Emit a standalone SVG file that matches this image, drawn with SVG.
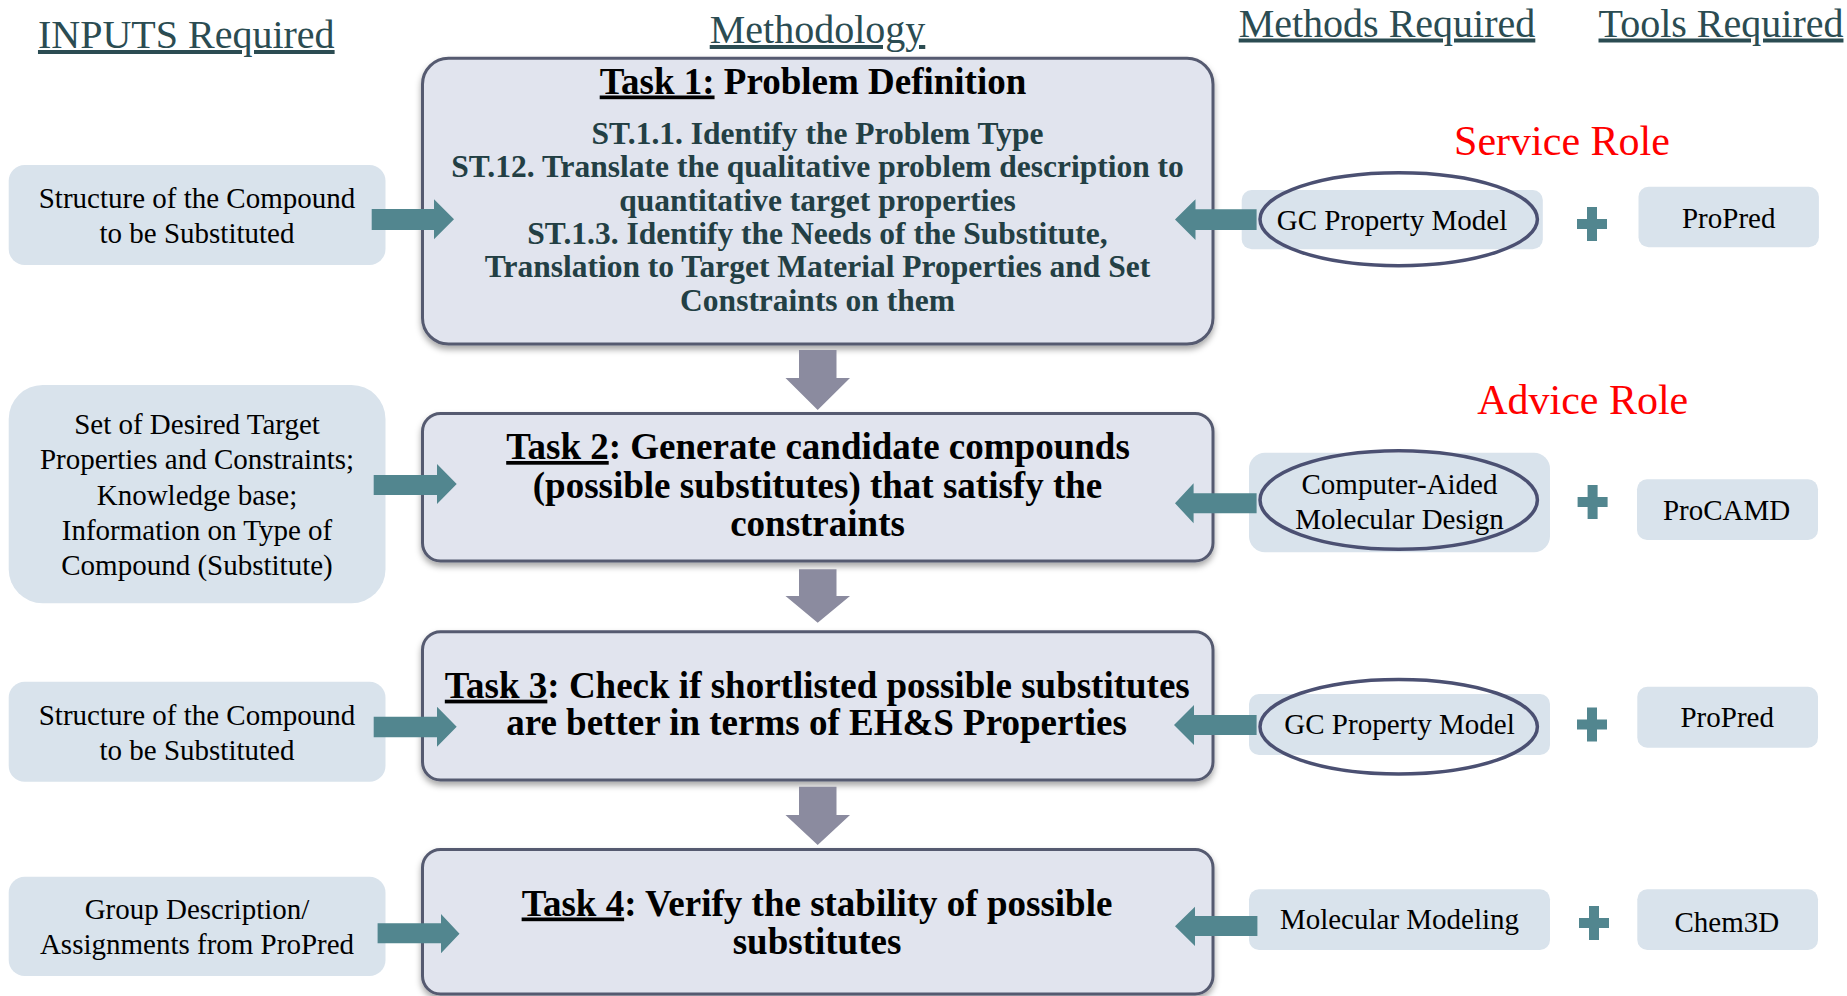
<svg xmlns="http://www.w3.org/2000/svg" xmlns:xlink="http://www.w3.org/1999/xlink" width="1847" height="996" viewBox="0 0 1847 996">
<defs>
<filter id="shadow" x="-5%" y="-10%" width="110%" height="125%">
<feDropShadow dx="0" dy="4" stdDeviation="3" flood-color="#000" flood-opacity="0.35"/>
</filter>
<path id="plus" d="M-15,-5 H-5 V-17 H5 V-5 H15 V5 H5 V17 H-5 V5 H-15 Z"/>
</defs>
<style>
.t{font-family:"Liberation Serif","Times New Roman",serif}
.head{font-size:40px;fill:#2b4c52;text-anchor:middle;text-decoration:underline}
.role{font-size:42px;fill:#ff0000;text-anchor:middle}
.inp{fill:#d9e3ec}
.in{font-size:29px;fill:#000;text-anchor:middle}
.task{fill:#e1e4ee;stroke:#555a70;stroke-width:3;filter:url(#shadow)}
.tt{font-size:37px;font-weight:bold;fill:#000;text-anchor:middle}
.st{font-size:31.5px;font-weight:bold;fill:#233f44;text-anchor:middle}
.ell{fill:none;stroke:#4b5072;stroke-width:3.5}
.tarrow{fill:#52868f}
.garrow{fill:#8b8b9f}
.u{text-decoration:underline}
</style>
<rect width="1847" height="996" fill="#ffffff"/>

<g id="headers" class="t">
<text class="head" x="186.3" y="48">INPUTS Required</text>
<text class="head" x="817.5" y="43">Methodology</text>
<text class="head" x="1387" y="36.5">Methods Required</text>
<text class="head" x="1721" y="36.5">Tools Required</text>
</g>

<g id="roles" class="t">
<text class="role" x="1562" y="155">Service Role</text>
<text class="role" x="1582.7" y="413.5">Advice Role</text>
</g>

<g id="input1" class="t">
<rect class="inp" x="8.7" y="165" width="376.8" height="100" rx="16"/>
<text class="in" x="197" y="208.3">Structure of the Compound</text>
<text class="in" x="197" y="242.7">to be Substituted</text>
</g>
<g id="input2" class="t">
<rect class="inp" x="8.7" y="385" width="376.8" height="218.3" rx="34"/>
<text class="in" x="197" y="433.5">Set of Desired Target</text>
<text class="in" x="197" y="469">Properties and Constraints;</text>
<text class="in" x="197" y="504.5">Knowledge base;</text>
<text class="in" x="197" y="540">Information on Type of</text>
<text class="in" x="197" y="575">Compound (Substitute)</text>
</g>
<g id="input3" class="t">
<rect class="inp" x="8.7" y="681.7" width="376.8" height="100" rx="16"/>
<text class="in" x="197" y="724.5">Structure of the Compound</text>
<text class="in" x="197" y="759.8">to be Substituted</text>
</g>
<g id="input4" class="t">
<rect class="inp" x="8.7" y="876.7" width="376.8" height="99.3" rx="16"/>
<text class="in" x="197" y="919">Group Description/</text>
<text class="in" x="197" y="954">Assignments from ProPred</text>
</g>

<g id="task1" class="t">
<rect class="task" x="422.5" y="58.3" width="790.5" height="285.7" rx="26"/>
<text class="tt" x="813" y="93.5"><tspan class="u">Task 1:</tspan> Problem Definition</text>
<text class="st" x="817.5" y="144">ST.1.1. Identify the Problem Type</text>
<text class="st" x="817.5" y="177.3">ST.12. Translate the qualitative problem description to</text>
<text class="st" x="817.5" y="210.6">quantitative target properties</text>
<text class="st" x="817.5" y="243.9">ST.1.3. Identify the Needs of the Substitute,</text>
<text class="st" x="817.5" y="277.2">Translation to Target Material Properties and Set</text>
<text class="st" x="817.5" y="310.5">Constraints on them</text>
</g>
<g id="task2" class="t">
<rect class="task" x="422.5" y="413.5" width="790.5" height="147.5" rx="18"/>
<text class="tt" x="818" y="459"><tspan class="u">Task 2</tspan>: Generate candidate compounds</text>
<text class="tt" x="817.5" y="497.5">(possible substitutes) that satisfy the</text>
<text class="tt" x="817.5" y="536">constraints</text>
</g>
<g id="task3" class="t">
<rect class="task" x="422.5" y="631.7" width="790.5" height="148.3" rx="18"/>
<text class="tt" x="817.3" y="697.7"><tspan class="u">Task 3</tspan>: Check if shortlisted possible substitutes</text>
<text class="tt" x="816.5" y="735.3">are better in terms of EH&amp;S Properties</text>
</g>
<g id="task4" class="t">
<rect class="task" x="422.5" y="849.5" width="790.5" height="144.5" rx="18"/>
<text class="tt" x="817" y="915.5"><tspan class="u">Task 4</tspan>: Verify the stability of possible</text>
<text class="tt" x="817" y="953.5">substitutes</text>
</g>

<g id="method1" class="t">
<rect class="inp" x="1241.7" y="190" width="301.1" height="59.3" rx="10"/>
<text class="in" x="1392" y="230">GC Property Model</text>
<ellipse class="ell" cx="1398.7" cy="219.2" rx="138.7" ry="46.5"/>
</g>
<g id="method2" class="t">
<rect class="inp" x="1249" y="452.7" width="301" height="99.6" rx="16"/>
<text class="in" x="1399.5" y="494.3">Computer-Aided</text>
<text class="in" x="1399.5" y="529.3">Molecular Design</text>
<ellipse class="ell" cx="1398.7" cy="500" rx="138.7" ry="49.3"/>
</g>
<g id="method3" class="t">
<rect class="inp" x="1249" y="694" width="301" height="61" rx="10"/>
<text class="in" x="1399.5" y="734.3">GC Property Model</text>
<ellipse class="ell" cx="1398.7" cy="726.7" rx="138.7" ry="47.3"/>
</g>
<g id="method4" class="t">
<rect class="inp" x="1249" y="889.3" width="301" height="60.7" rx="10"/>
<text class="in" x="1399.5" y="929.3">Molecular Modeling</text>
</g>

<g id="tool1" class="t">
<rect class="inp" x="1638.5" y="186.7" width="180.4" height="60.6" rx="10"/>
<text class="in" x="1728.7" y="227.7">ProPred</text>
</g>
<g id="tool2" class="t">
<rect class="inp" x="1637" y="479.3" width="181" height="60.7" rx="10"/>
<text class="in" x="1726.6" y="520">ProCAMD</text>
</g>
<g id="tool3" class="t">
<rect class="inp" x="1637.3" y="686.7" width="180.7" height="61" rx="10"/>
<text class="in" x="1727.2" y="727.3">ProPred</text>
</g>
<g id="tool4" class="t">
<rect class="inp" x="1637.3" y="889.3" width="180.7" height="60.7" rx="10"/>
<text class="in" x="1726.9" y="931.7">Chem3D</text>
</g>

<g id="plus-signs" class="tarrow">
<use xlink:href="#plus" x="1592" y="224"/>
<use xlink:href="#plus" x="1592.6" y="502"/>
<use xlink:href="#plus" x="1592" y="724.5"/>
<use xlink:href="#plus" x="1594" y="923"/>
</g>

<g id="connectors">
<path class="tarrow" d="M371.7,209 H434 V199.3 L454,219.3 L434,239.3 V230 H371.7 Z"/>
<path class="tarrow" d="M373.7,475 H437 V464 L456.7,484 L437,504 V495 H373.7 Z"/>
<path class="tarrow" d="M373.7,716.7 H437 V706.7 L456.7,726.7 L437,746.7 V737.3 H373.7 Z"/>
<path class="tarrow" d="M377.6,923.3 H441 V914 L459.5,933.7 L441,953.3 V943.3 H377.6 Z"/>
<path class="tarrow" d="M1256.6,209.3 H1195.5 V199.3 L1175,219.5 L1195.5,240 V230 H1256.6 Z"/>
<path class="tarrow" d="M1256.6,493.3 H1193.6 V483.3 L1175,503.3 L1193.6,523.3 V513.3 H1256.6 Z"/>
<path class="tarrow" d="M1256.6,715 H1194 V705 L1174,725 L1194,745 V735 H1256.6 Z"/>
<path class="tarrow" d="M1257.4,916 H1195 V906.7 L1175,926.3 L1195,946 V936 H1257.4 Z"/>
<path class="garrow" d="M799,350 H836.5 V378 H850 L817.7,410 L785.5,378 H799 Z"/>
<path class="garrow" d="M799,569.3 H836.5 V596 H850 L817.7,622.7 L785.5,596 H799 Z"/>
<path class="garrow" d="M799,786.7 H836.5 V815 H850 L817.7,845 L785.5,815 H799 Z"/>
</g>
</svg>
